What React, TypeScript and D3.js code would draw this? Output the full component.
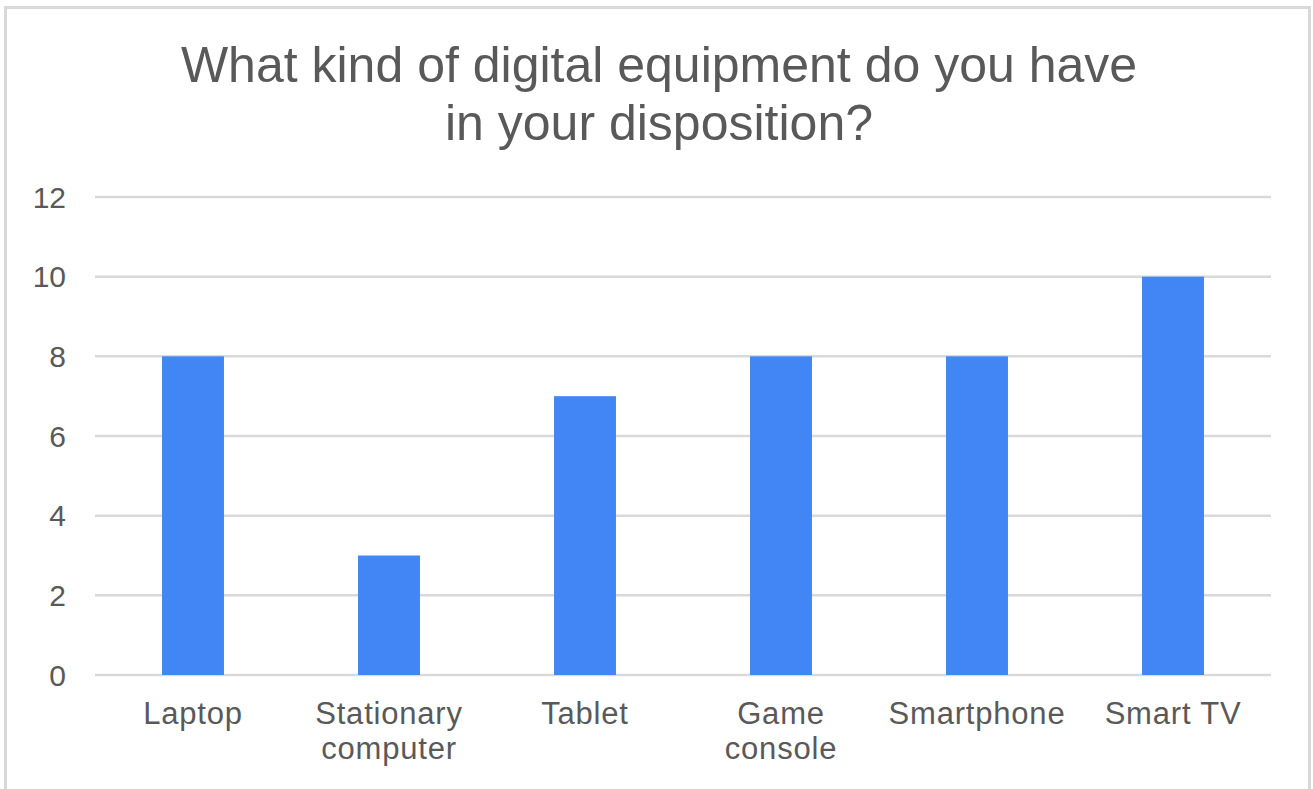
import React from "react";
import * as d3 from "d3";

const categories: string[][] = [
  ["Laptop"],
  ["Stationary", "computer"],
  ["Tablet"],
  ["Game", "console"],
  ["Smartphone"],
  ["Smart TV"],
];
const values: number[] = [8, 3, 7, 8, 8, 10];
const yTicks: number[] = [0, 2, 4, 6, 8, 10, 12];
const titleLines: string[] = [
  "What kind of digital equipment do you have",
  "in your disposition?",
];

const W = 1313;
const H = 789;
const FONT = "'Liberation Sans', Arial, sans-serif";
const TEXT = "#595959";

export default function App() {
  const left = 95;
  const right = 1271;
  const top = 197;
  const bottom = 675;
  const keys = categories.map((c) => c.join(" "));
  const x = d3.scaleBand<string>().domain(keys).range([left, right]).paddingInner(0.684).paddingOuter(0.342);
  const y = d3.scaleLinear().domain([0, 12]).range([bottom, top]);

  return (
    <svg width={W} height={H} style={{ position: "absolute", left: 0, top: 0, background: "#fff" }} fontFamily={FONT}>
      <rect x={0} y={0} width={W} height={H} fill="#fff" />
      <rect x={5.5} y={7.5} width={1304} height={820} fill="#fff" stroke="#d9d9d9" strokeWidth={3} />
      {titleLines.map((t, i) => (
        <text key={i} x={659} y={82 + i * 58} textAnchor="middle" fontSize={50} fill={TEXT}>
          {t}
        </text>
      ))}
      {yTicks.map((t) => (
        <g key={t}>
          <line x1={left} x2={right} y1={y(t)} y2={y(t)} stroke="#d9d9d9" strokeWidth={2.5} />
          <text x={66} y={y(t)} dy="0.36em" textAnchor="end" fontSize={30} fill={TEXT}>
            {t}
          </text>
        </g>
      ))}
      {values.map((v, i) => (
        <rect key={i} x={x(keys[i])} y={y(v)} width={x.bandwidth()} height={y(0) - y(v)} fill="#4285f4" />
      ))}
      {categories.map((lines, i) => (
        <text key={i} x={(x(keys[i]) as number) + x.bandwidth() / 2} y={724} textAnchor="middle" fontSize={31} letterSpacing={0.8} fill={TEXT}>
          {lines.map((l, j) => (
            <tspan key={j} x={(x(keys[i]) as number) + x.bandwidth() / 2} dy={j === 0 ? 0 : 35}>
              {l}
            </tspan>
          ))}
        </text>
      ))}
    </svg>
  );
}
